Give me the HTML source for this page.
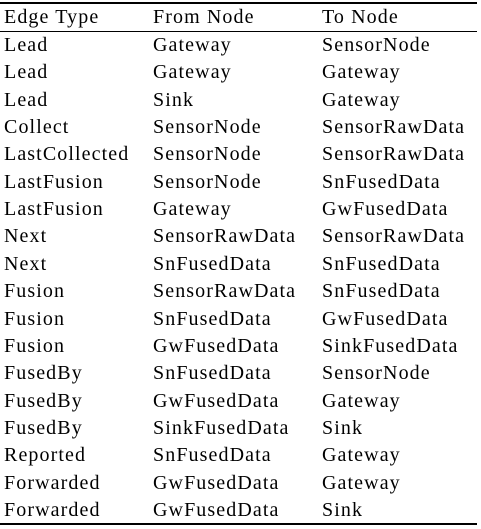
<!DOCTYPE html>
<html><head><style>
body{margin:0;width:481px;height:529px;background:#fff;position:relative;overflow:hidden;font-family:"Liberation Serif",serif;font-size:20px;color:#000;letter-spacing:1.1px}
.r{position:absolute;left:0;width:477px;background:#000}
.t{position:absolute;white-space:nowrap;line-height:20px}
</style></head><body>
<div class="r" style="top:2px;height:2px"></div>
<div class="r" style="top:31px;height:1px"></div>
<div class="r" style="top:523px;height:2px"></div>
<div id="c"></div>
<script>
var rows=[["Edge Type","From Node","To Node"],["Lead","Gateway","SensorNode"],["Lead","Gateway","Gateway"],["Lead","Sink","Gateway"],["Collect","SensorNode","SensorRawData"],["LastCollected","SensorNode","SensorRawData"],["LastFusion","SensorNode","SnFusedData"],["LastFusion","Gateway","GwFusedData"],["Next","SensorRawData","SensorRawData"],["Next","SnFusedData","SnFusedData"],["Fusion","SensorRawData","SnFusedData"],["Fusion","SnFusedData","GwFusedData"],["Fusion","GwFusedData","SinkFusedData"],["FusedBy","SnFusedData","SensorNode"],["FusedBy","GwFusedData","Gateway"],["FusedBy","SinkFusedData","Sink"],["Reported","SnFusedData","Gateway"],["Forwarded","GwFusedData","Gateway"],["Forwarded","GwFusedData","Sink"]];
var xs=[4,153,322],h="";
rows.forEach(function(r,i){var y=i==0?7:35+(i-1)*27.35;r.forEach(function(s,j){h+='<div class="t" style="left:'+xs[j]+'px;top:'+y+'px">'+s+'</div>';});});
document.getElementById('c').innerHTML=h;
</script>
</body></html>
